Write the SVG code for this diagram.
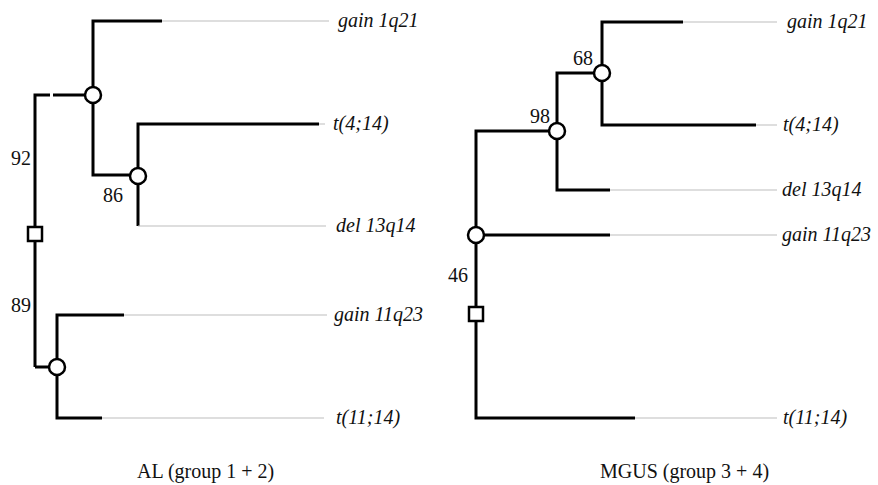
<svg xmlns="http://www.w3.org/2000/svg" width="878" height="485" viewBox="0 0 878 485">
<style>
.br{stroke:#000;stroke-width:3;fill:none;stroke-linecap:butt}
.tip{stroke:#bdbdbd;stroke-width:1.2;fill:none}
.nd{stroke:#000;stroke-width:2.5;fill:#fff}
.lb{font-family:"Liberation Serif","Times New Roman",serif;font-style:italic;font-size:20px;fill:#111}
.num{font-family:"Liberation Serif","Times New Roman",serif;font-size:20px;fill:#111}
.cap{font-family:"Liberation Serif","Times New Roman",serif;font-size:20px;fill:#111}
</style>
<rect width="878" height="485" fill="#fff"/>
<g id="connectors">
  <!-- left tree -->
  <path class="br" d="M35,367 V95 H50 M53,95 H93"/>
  <path class="br" d="M162,21 H93 V175 H138"/>
  <path class="br" d="M319,124 H138 V226"/>
  <path class="br" d="M124,315 H57 V418 H102"/>
  <path class="br" d="M35,367 H57"/>
  <path class="tip" d="M162,21 H329 M319,124 H325 M138,226 H326 M124,315 H327 M102,418 H324"/>
  <!-- right tree -->
  <path class="br" d="M635,418 H476 V131 H557"/>
  <path class="br" d="M476,235 H610"/>
  <path class="br" d="M610,190 H557 V73 H602"/>
  <path class="br" d="M683,22 H602 V125 H756"/>
  <path class="tip" d="M683,22 H777 M756,125 H777 M610,190 H777 M610,235 H777 M635,418 H777"/>
</g>
<g id="node-left-root"><rect class="nd" x="28" y="227" width="14" height="14"/></g>
<g id="node-left-a"><circle class="nd" cx="93" cy="95" r="8"/></g>
<g id="node-left-b"><circle class="nd" cx="138" cy="176" r="8"/></g>
<g id="node-left-c"><circle class="nd" cx="57" cy="367" r="8"/></g>
<g id="node-right-root"><rect class="nd" x="469" y="307" width="14" height="14"/></g>
<g id="node-right-a"><circle class="nd" cx="476" cy="235" r="8"/></g>
<g id="node-right-b"><circle class="nd" cx="557" cy="131" r="8"/></g>
<g id="node-right-c"><circle class="nd" cx="602" cy="73" r="8"/></g>
<g id="labels-left">
  <text class="lb" x="338" y="27">gain 1q21</text>
  <text class="lb" x="333" y="130">t(4;14)</text>
  <text class="lb" x="336" y="232">del 13q14</text>
  <text class="lb" x="334" y="321">gain 11q23</text>
  <text class="lb" x="336" y="424">t(11;14)</text>
  <text class="num" x="11" y="165">92</text>
  <text class="num" x="103" y="202">86</text>
  <text class="num" x="11" y="312">89</text>
  <text class="cap" x="137" y="478">AL (group 1 + 2)</text>
</g>
<g id="labels-right">
  <text class="lb" x="787" y="28">gain 1q21</text>
  <text class="lb" x="783" y="131">t(4;14)</text>
  <text class="lb" x="782" y="196">del 13q14</text>
  <text class="lb" x="782" y="241">gain 11q23</text>
  <text class="lb" x="783" y="424">t(11;14)</text>
  <text class="num" x="573" y="65">68</text>
  <text class="num" x="530" y="123">98</text>
  <text class="num" x="448" y="282">46</text>
  <text class="cap" x="600" y="478">MGUS (group 3 + 4)</text>
</g>
</svg>
